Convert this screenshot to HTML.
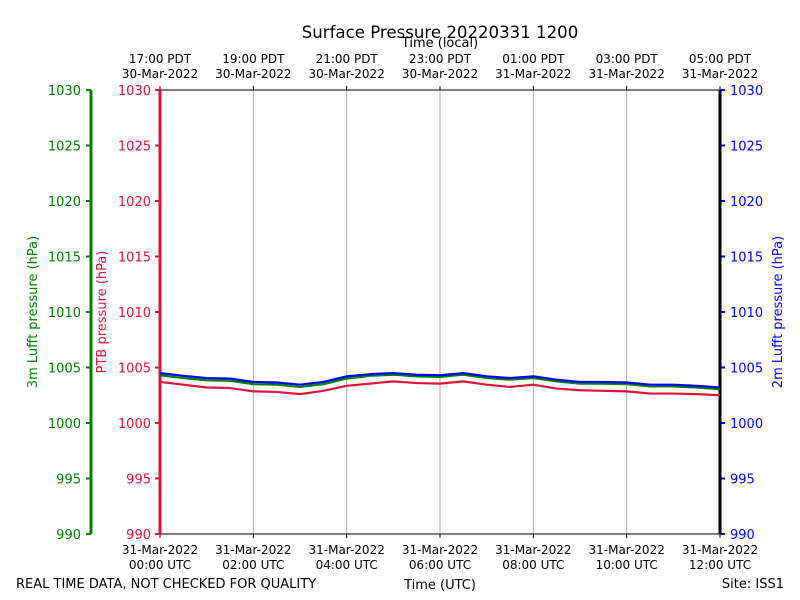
<!DOCTYPE html>
<html><head><meta charset="utf-8"><style>
body{margin:0;background:#fff}
svg{display:block;font-family:"DejaVu Sans","Liberation Sans",sans-serif}
</style></head><body>
<svg id="c" width="800" height="600">
<text x="440" y="38" font-size="16.6" text-anchor="middle">Surface Pressure 20220331 1200</text>
<text x="440" y="47" font-size="13" text-anchor="middle">Time (local)</text>
<text x="440" y="589" font-size="13" text-anchor="middle">Time (UTC)</text>
<text x="16" y="588" font-size="13">REAL TIME DATA, NOT CHECKED FOR QUALITY</text>
<text x="784" y="588" font-size="13" text-anchor="end">Site: ISS1</text>
<text transform="translate(37,312) rotate(-90)" font-size="13" fill="green" text-anchor="middle">3m Lufft pressure (hPa)</text>
<text transform="translate(106,312) rotate(-90)" font-size="13" fill="crimson" text-anchor="middle">PTB pressure (hPa)</text>
<text transform="translate(782,312) rotate(-90)" font-size="13" fill="blue" text-anchor="middle">2m Lufft pressure (hPa)</text>
<g id="g"></g>
</svg>
<script>
const hours=[0,0.5,1,1.5,2,2.5,3,3.5,4,4.5,5,5.5,6,6.5,7,7.5,8,8.5,9,9.5,10,10.5,11,11.5,12];
const ptb=[1003.7,1003.45,1003.2,1003.15,1002.85,1002.8,1002.6,1002.9,1003.35,1003.55,1003.75,1003.6,1003.55,1003.75,1003.45,1003.25,1003.45,1003.1,1002.95,1002.9,1002.85,1002.65,1002.65,1002.6,1002.5];
const lufft2m=[1004.5,1004.25,1004.05,1004.0,1003.7,1003.65,1003.45,1003.7,1004.2,1004.4,1004.5,1004.35,1004.3,1004.5,1004.2,1004.05,1004.2,1003.9,1003.7,1003.7,1003.65,1003.45,1003.45,1003.35,1003.2];
const lufft3m=[1004.3,1004.05,1003.85,1003.8,1003.5,1003.45,1003.25,1003.5,1004.0,1004.25,1004.35,1004.2,1004.15,1004.35,1004.05,1003.9,1004.05,1003.75,1003.55,1003.55,1003.5,1003.3,1003.3,1003.2,1003.05];
const yTicks=[990,995,1000,1005,1010,1015,1020,1025,1030];
const xTickHours=[0,2,4,6,8,10,12];
const utcLabels=["00:00 UTC","02:00 UTC","04:00 UTC","06:00 UTC","08:00 UTC","10:00 UTC","12:00 UTC"];
const utcDates=["31-Mar-2022","31-Mar-2022","31-Mar-2022","31-Mar-2022","31-Mar-2022","31-Mar-2022","31-Mar-2022"];
const localLabels=["17:00 PDT","19:00 PDT","21:00 PDT","23:00 PDT","01:00 PDT","03:00 PDT","05:00 PDT"];
const localDates=["30-Mar-2022","30-Mar-2022","30-Mar-2022","30-Mar-2022","31-Mar-2022","31-Mar-2022","31-Mar-2022"];
const L=160,R=720,T=90,B=534;
const X=h=>L+(h-0)/12*(R-L);
const Y=v=>B-(v-990)/40*(B-T);
const g=document.getElementById('g');
const NS='http://www.w3.org/2000/svg';
function mk(t,a,name){const e=document.createElementNS(NS,t);for(const k in a)e.setAttribute(k,a[k]);


g.appendChild(e);return e;}
function txt(x,y,s,fill,anchor,name){const e=mk('text',{x:x,y:y,'font-size':12,fill:fill,'text-anchor':anchor},name);e.textContent=s;return e;}
xTickHours.forEach((h,i)=>{
  const x=X(h);
  if(i>0&&i<xTickHours.length-1)mk('line',{x1:x,x2:x,y1:T,y2:B,stroke:'#b0b0b0','stroke-width':1},'x-gridline');
  mk('line',{x1:x,x2:x,y1:B,y2:B+4,stroke:'#000'},'x-tick');
  mk('line',{x1:x,x2:x,y1:T,y2:T-4,stroke:'#000'},'top-tick');
  txt(x,554,utcDates[i],'#000','middle','x-tick-date');
  txt(x,569,utcLabels[i],'#000','middle','x-tick-label');
  txt(x,63,localLabels[i],'#000','middle','top-tick-label');
  txt(x,78,localDates[i],'#000','middle','top-tick-date');
});
yTicks.forEach(v=>{
  const y=Y(v);
  mk('line',{x1:91,x2:86,y1:y,y2:y,stroke:'green','stroke-width':2},'green-y-tick');
  txt(81,y+5,v,'green','end','green-y-label').setAttribute('font-size',13);
  mk('line',{x1:160,x2:155,y1:y,y2:y,stroke:'crimson','stroke-width':2},'red-y-tick');
  txt(151,y+5,v,'crimson','end','red-y-label').setAttribute('font-size',13);
  mk('line',{x1:720,x2:725,y1:y,y2:y,stroke:'blue','stroke-width':2},'blue-y-tick');
  txt(730,y+5,v,'blue','start','blue-y-label').setAttribute('font-size',13);
});
mk('line',{x1:L,x2:R,y1:T,y2:T,stroke:'#000'},'top-spine');
mk('line',{x1:L,x2:R,y1:B,y2:B,stroke:'#000'},'bottom-spine');
mk('line',{x1:91,x2:91,y1:T,y2:B,stroke:'green','stroke-width':3},'green-spine');
mk('line',{x1:L,x2:L,y1:T,y2:B,stroke:'crimson','stroke-width':3},'red-spine');
mk('line',{x1:R,x2:R,y1:T,y2:B,stroke:'#000','stroke-width':3},'right-spine');
function line(arr,col,name){mk('polyline',{points:arr.map((v,i)=>X(hours[i])+','+Y(v)).join(' '),fill:'none',stroke:col,'stroke-width':2.2,'stroke-linejoin':'round'},name);}
line(ptb,'crimson','ptb-series');
line(lufft3m,'green','lufft-3m-series');
line(lufft2m,'blue','lufft-2m-series');
</script>
</body></html>
